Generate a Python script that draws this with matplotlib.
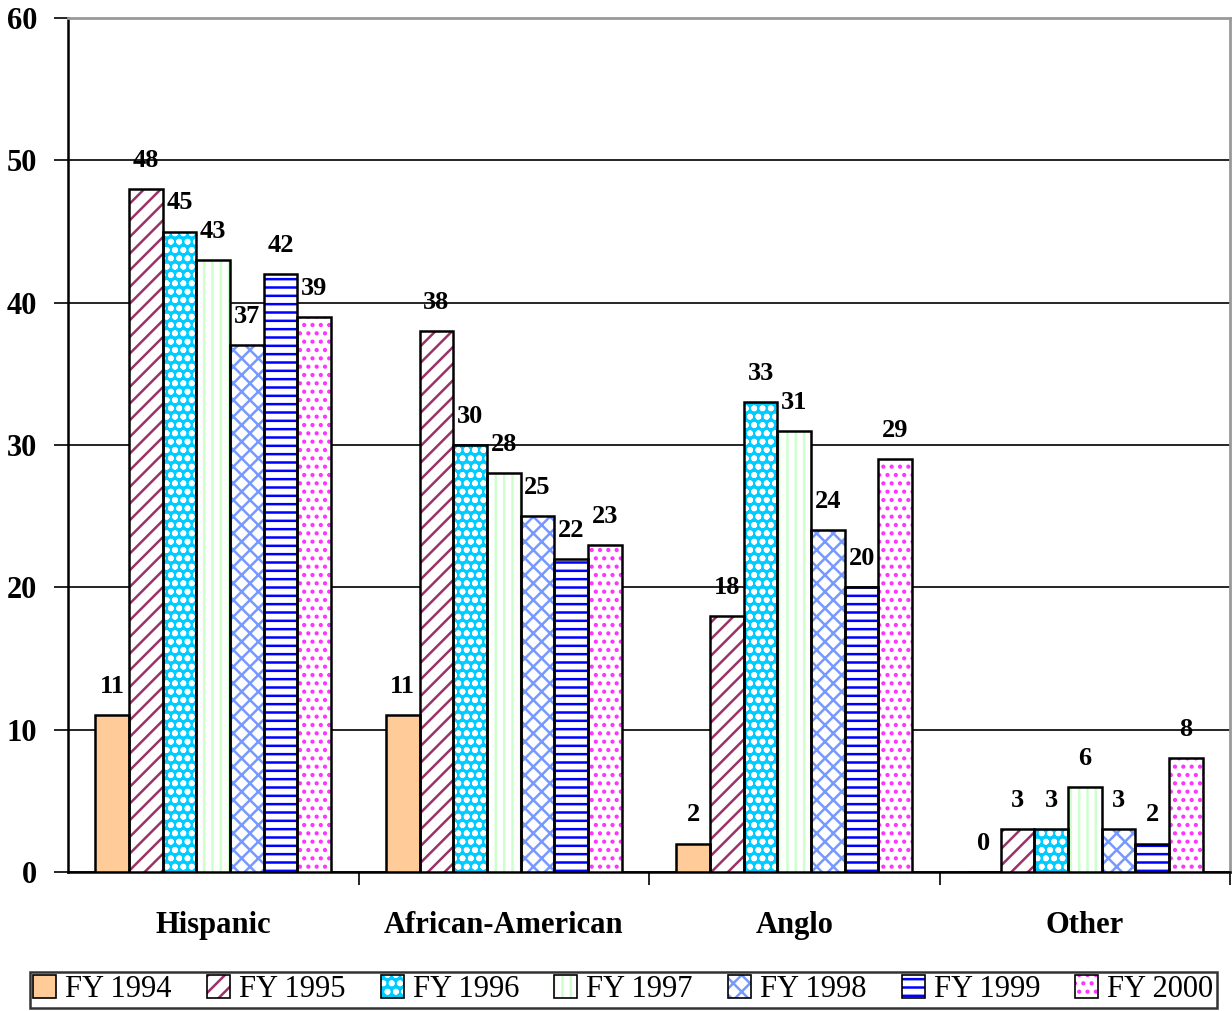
import matplotlib
matplotlib.use("Agg")
import matplotlib.pyplot as plt
import numpy as np

categories = ["Hispanic", "African-American", "Anglo", "Other"]
years = ["FY 1994", "FY 1995", "FY 1996", "FY 1997", "FY 1998", "FY 1999", "FY 2000"]
fy1994 = [11, 11, 2, 0]
fy1995 = [48, 38, 18, 3]
fy1996 = [45, 30, 33, 3]
fy1997 = [43, 28, 31, 6]
fy1998 = [37, 25, 24, 3]
fy1999 = [42, 22, 20, 2]
fy2000 = [39, 23, 29, 8]
series = [fy1994, fy1995, fy1996, fy1997, fy1998, fy1999, fy2000]

# face colour, hatch, hatch colour
styles = [
    ("#FFCC99", "", "black"),
    ("white", "//", "#993366"),
    ("#00CCFF", "oo", "white"),
    ("white", "||", "#CCFFCC"),
    ("white", "xx", "#7799FF"),
    ("white", "--", "#0000FF"),
    ("white", "..", "#FF33FF"),
]

plt.rcParams["font.family"] = "Liberation Serif"
plt.rcParams["hatch.linewidth"] = 1.8

fig = plt.figure(figsize=(12.32, 10.11), dpi=100)
ax = fig.add_axes([68 / 1232, 1 - 872 / 1011, 1 - 68 / 1232 - 2 / 1232, (872 - 18) / 1011])

x = np.arange(len(categories))
w = 0.116
for i, (vals, (fc, hatch, hc)) in enumerate(zip(series, styles)):
    pos = x + (i - 3) * w
    ax.bar(pos, vals, w, color=fc, hatch=hatch, edgecolor=hc, linewidth=0, zorder=3)
    ax.bar(pos, vals, w, fill=False, edgecolor="black", linewidth=1.8, zorder=4)
    for p, v in zip(pos, vals):
        ax.text(p, v + 1.2, str(v), ha="center", va="bottom", fontsize=19, fontweight="bold", zorder=5)

ax.set_ylim(0, 60)
ax.set_xlim(-0.5, 3.5)
ax.set_yticks(range(0, 61, 10))
ax.yaxis.grid(True, color="black", linewidth=1.2, zorder=0)
ax.set_xticks(x)
ax.set_xticklabels(categories, fontsize=22, fontweight="bold")
ax.set_xticks([0.5, 1.5, 2.5, 3.5], minor=True)
ax.tick_params(axis="x", which="major", length=0, pad=28)
ax.tick_params(axis="x", which="minor", length=9, width=1.2, direction="out")
ax.tick_params(axis="y", length=10, width=1.2, labelsize=22, pad=12)
for lab in ax.get_yticklabels():
    lab.set_fontweight("bold")
ax.spines["top"].set_color("#999999")
ax.spines["top"].set_linewidth(2)
ax.spines["right"].set_color("#999999")
ax.spines["right"].set_linewidth(2)
ax.spines["left"].set_linewidth(1.8)
ax.spines["bottom"].set_linewidth(1.8)

leg_handles = []
for fc, hatch, hc in styles:
    leg_handles.append((plt.Rectangle((0, 0), 1, 1, facecolor=fc, hatch=hatch, edgecolor=hc, linewidth=0),
                        plt.Rectangle((0, 0), 1, 1, fill=False, edgecolor="black", linewidth=1.2)))
leg = fig.legend(leg_handles, years, loc="lower center", ncol=7, bbox_to_anchor=(0.506, -0.012),
                 fontsize=22, frameon=True, fancybox=False, edgecolor="black",
                 handlelength=0.75, handleheight=0.75, handletextpad=0.3, columnspacing=1.15,
                 borderpad=0.12)
leg.get_frame().set_linewidth(1.8)

fig.savefig("out.png", dpi=100)
